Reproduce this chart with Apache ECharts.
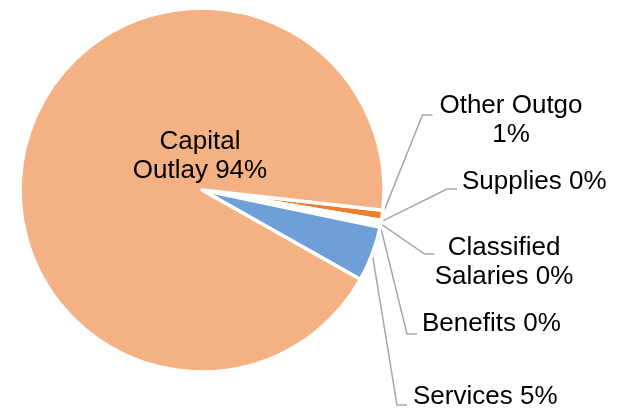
<!DOCTYPE html>
<html><head><meta charset="utf-8">
<script src="https://cdn.jsdelivr.net/npm/echarts@6/dist/echarts.min.js"></script>
<style>html,body{margin:0;padding:0;background:#fff}#c{width:623px;height:409px}</style>
</head><body><div id="c"></div>
<script>
// ---- data ----
const categories = ['Other Outgo', 'Supplies', 'Classified Salaries', 'Benefits', 'Services', 'Capital Outlay'];
const values = [0.9, 0.2, 0.2, 0.2, 4.9, 93.6];
const labelTemplates = ['Other Outgo\n{p}', 'Supplies {p}', 'Classified\nSalaries {p}', 'Benefits {p}', 'Services {p}', 'Capital\nOutlay {p}'];

// ---- styles / label placement ----
const sliceColors = ['#ED7D31', '#FFFFFF', '#FFFFFF', '#FFFFFF', '#6F9FD8', '#F4B183'];
// tx,ty: text centre (or left edge for align left); gapTop/gapBottom: spacer lines that move the leader attach point
const labelPlacement = [
  {tx: 511, ty: 118, align: 'center', padL: 7, gapTop: 10, gapBottom: 0, width: null},
  {tx: 462, ty: 180, align: 'left', padL: 5, gapTop: 0, gapBottom: 14, width: null},
  {tx: 504, ty: 260, align: 'center', padL: 4, gapTop: 16, gapBottom: 0, width: 114},
  {tx: 422, ty: 322, align: 'left', padL: 5, gapTop: 0, gapBottom: 20, width: null},
  {tx: 413, ty: 395, align: 'left', padL: 6, gapTop: 0, gapBottom: 16, width: null},
  {tx: 200, ty: 154, align: 'center', padL: 0, gapTop: 0, gapBottom: 0, width: null}
];

const data = categories.map((name, i) => {
  const lp = labelPlacement[i];
  const lbl = {padding: [0, 0, 0, lp.padL]};
  if (lp.width) lbl.width = lp.width;
  if (i === 5) lbl.position = 'inside';
  return {
    name: name,
    value: values[i],
    itemStyle: {color: sliceColors[i]},
    label: lbl,
    labelLine: {show: i !== 5}
  };
});

const chart = echarts.init(document.getElementById('c'), null, {renderer: 'canvas'});
chart.setOption({
  animation: false,
  backgroundColor: '#ffffff',
  series: [{
    type: 'pie',
    center: [202, 190],
    radius: 182,
    startAngle: -6.4,
    clockwise: true,
    avoidLabelOverlap: false,
    itemStyle: {borderColor: '#ffffff', borderWidth: 3.5},
    emphasis: {disabled: true},
    label: {
      show: true,
      color: '#000000',
      fontFamily: 'Liberation Sans, Arial, sans-serif',
      fontSize: 26,
      lineHeight: 29,
      overflow: 'none',
      formatter: p => {
        const lp = labelPlacement[p.dataIndex];
        const txt = labelTemplates[p.dataIndex].replace('{p}', Math.round(p.percent) + '%');
        const lines = txt.split('\n').map(s => '{t|' + s + '}');
        if (lp.gapTop) lines.unshift('{g' + lp.gapTop + '| }');
        if (lp.gapBottom) lines.push('{g' + lp.gapBottom + '| }');
        return lines.join('\n');
      },
      rich: {
        t: {color: '#000000', fontFamily: 'Liberation Sans, Arial, sans-serif', fontSize: 26, lineHeight: 29},
        g10: {fontSize: 1, lineHeight: 10},
        g14: {fontSize: 1, lineHeight: 14},
        g16: {fontSize: 1, lineHeight: 16},
        g20: {fontSize: 1, lineHeight: 20}
      }
    },
    labelLine: {
      show: true,
      length: 5,
      length2: 10,
      smooth: false,
      lineStyle: {color: '#A6A6A6', width: 1.5}
    },
    labelLayout: function (params) {
      const lp = labelPlacement[params.dataIndex];
      let x;
      if (lp.align === 'left') x = lp.tx - lp.padL;
      else x = lp.tx - lp.padL / 2;
      const y = lp.ty + 2 + (lp.gapBottom - lp.gapTop) / 2;
      return {x: x, y: y, align: lp.align, verticalAlign: 'middle'};
    },
    data: data
  }]
});
</script>
</body></html>
